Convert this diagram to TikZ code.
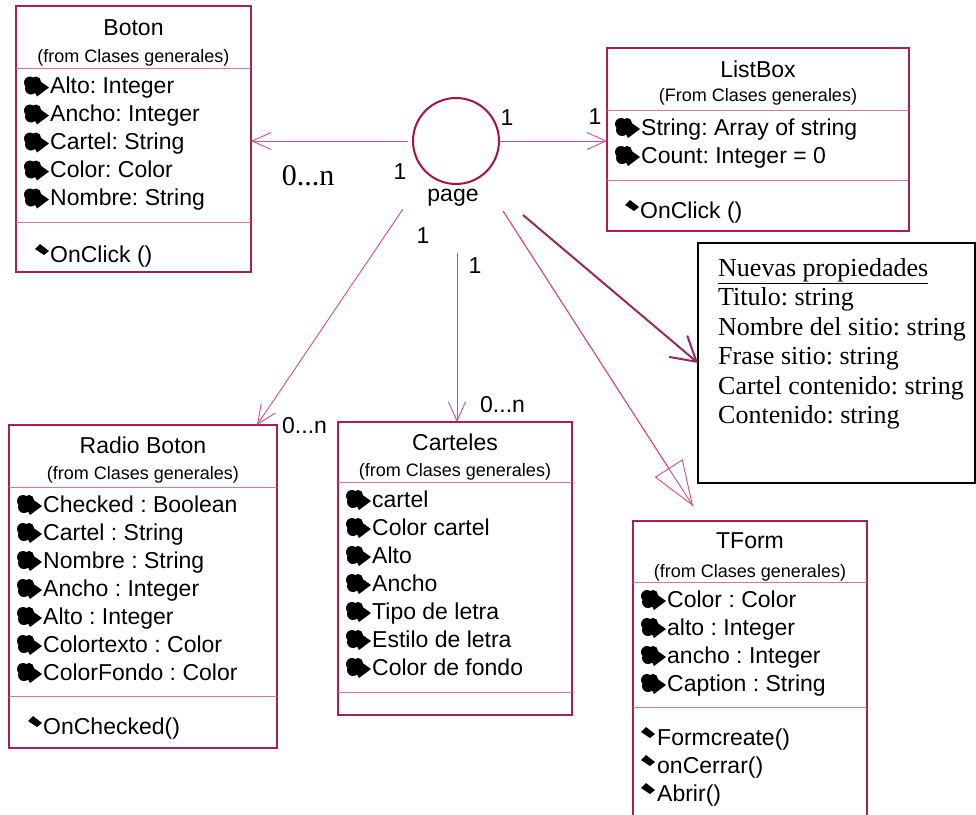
\documentclass[tikz,border=0pt]{standalone}
\usepackage{fontspec}
\setmainfont{Liberation Sans}
\newfontfamily\tnr{Liberation Serif}
\usetikzlibrary{arrows.meta,calc}
\frenchspacing
\definecolor{boxc}{RGB}{168,32,82}
\definecolor{sepc}{RGB}{212,120,155}
\definecolor{linec}{RGB}{205,80,125}
\definecolor{thickc}{RGB}{150,40,100}
\definecolor{circc}{RGB}{165,20,65}
\tikzset{
  classbox/.style={draw=boxc, line width=1.4pt, rectangle, inner sep=0pt, outer sep=0pt},
  sepline/.style={draw=sepc, line width=1pt},
  ttl/.style={inner sep=0pt, font=\frenchspacing\fontsize{23}{28}\selectfont, anchor=base},
  subttl/.style={inner sep=0pt, font=\frenchspacing\fontsize{18}{22}\selectfont, anchor=base},
  attr/.style={inner sep=0pt, font=\frenchspacing\fontsize{23}{28}\selectfont, anchor=base west},
  mult/.style={inner sep=0pt, font=\fontsize{23}{28}\selectfont, anchor=base},
  serifmult/.style={inner sep=0pt, font=\tnr\fontsize{30}{34}\selectfont, anchor=base},
  notetxt/.style={inner sep=0pt, font=\frenchspacing\tnr\fontsize{26}{29.5}\selectfont, anchor=base west},
  conn/.style={draw=linec, line width=0.9pt},
  openv/.style={-{Straight Barb[length=19pt,width=17pt]}},
  attricon/.pic={
    \fill[black] (-7,-3) circle[radius=6] (-1,-4) circle[radius=5] (-6,3) circle[radius=6];
    \fill[black] (-2,-8) -- (12,2) -- (0,11) -- (-6,0) -- cycle;
  },
  methicon/.pic={
    \fill[black] (-7,0) -- (-2,-5) -- (7,2) -- (2,6) -- cycle;
  }
}
% #1 box left x, #2 first baseline, #3 name prefix, #4 list
\newcommand\attrlist[4]{%
  \foreach \t [count=\i] in {#4} {
    \pic at ({#1+21},{#2+28*(\i-1)-8}) {attricon};
    \node[attr] (#3a\i) at ({#1+34},{#2+28*(\i-1)}) {\t};
  }}
% #1 icon x, #2 text x, #3 first baseline, #4 prefix, #5 list
\newcommand\methlist[5]{%
  \foreach \t [count=\i] in {#5} {
    \pic at ({#1},{#3+28*(\i-1)-13}) {methicon};
    \node[attr] (#4m\i) at ({#2},{#3+28*(\i-1)}) {\t};
  }}
\begin{document}
\begin{tikzpicture}[x=1pt,y=-1pt]
\useasboundingbox (0,0) rectangle (976,814);
\clip (0,0) rectangle (976,814);

% ---------- Boton ----------
\node[classbox, minimum width=235pt, minimum height=266pt] (boton) at (133.5,139) {};
\node[ttl] (botonT) at (133.5,35.5) {Boton};
\node[subttl] (botonS) at (133.5,62) {(from Clases generales)};
\draw[sepline] (16,68) -- (251,68);
\attrlist{16}{93.5}{bo}{Alto: Integer, Ancho: Integer, Cartel: String, Color: Color, Nombre: String}
\draw[sepline] (16,222) -- (251,222);
\methlist{42}{50}{262}{bo}{OnClick ()}

% ---------- ListBox ----------
\node[classbox, minimum width=302pt, minimum height=183pt] (listbox) at (758,139.5) {};
\node[ttl] (listboxT) at (758,77) {ListBox};
\node[subttl] (listboxS) at (758,101) {(From Clases generales)};
\draw[sepline] (607,110) -- (909,110);
\attrlist{607}{135}{lb}{String: Array of string, Count: Integer = 0}
\draw[sepline] (607,180) -- (909,180);
\methlist{632}{640}{218}{lb}{OnClick ()}

% ---------- Radio Boton ----------
\node[classbox, minimum width=268pt, minimum height=323pt] (radio) at (143,586.5) {};
\node[ttl] (radioT) at (143,453) {Radio Boton};
\node[subttl] (radioS) at (143,479) {(from Clases generales)};
\draw[sepline] (9,487) -- (277,487);
\attrlist{9}{512}{rb}{Checked : Boolean, Cartel : String, Nombre : String, Ancho : Integer, Alto : Integer, Colortexto : Color, ColorFondo : Color}
\draw[sepline] (9,696) -- (277,696);
\methlist{35}{43}{734}{rb}{OnChecked()}

% ---------- Carteles ----------
\node[classbox, minimum width=234pt, minimum height=293pt] (carteles) at (455,568.5) {};
\node[ttl] (cartelesT) at (455,450) {Carteles};
\node[subttl] (cartelesS) at (455,476) {(from Clases generales)};
\draw[sepline] (338,482) -- (572,482);
\attrlist{338}{507}{ca}{cartel, Color cartel, Alto, Ancho, Tipo de letra, Estilo de letra, Color de fondo}
\draw[sepline] (338,692) -- (572,692);

% ---------- TForm ----------
\node[classbox, minimum width=234pt, minimum height=309pt] (tform) at (750,675.5) {};
\node[ttl] (tformT) at (750,548) {TForm};
\node[subttl] (tformS) at (750,577) {(from Clases generales)};
\draw[sepline] (633,582) -- (867,582);
\attrlist{633}{607}{tf}{Color : Color, alto : Integer, ancho : Integer, Caption : String}
\draw[sepline] (633,707) -- (867,707);
\methlist{648}{657}{745}{tf}{Formcreate(), onCerrar(), Abrir()}

% ---------- Note ----------
\node[draw=black, line width=1.8pt, rectangle, inner sep=0pt, outer sep=0pt,
      minimum width=277pt, minimum height=240pt] (note) at (836.5,363) {};
\node[notetxt] (n1) at (718,276) {\underline{Nuevas propiedades}};
\node[notetxt] (n2) at (718,305.5) {Titulo: string};
\node[notetxt] (n3) at (718,335) {Nombre del sitio: string};
\node[notetxt] (n4) at (718,364.5) {Frase sitio: string};
\node[notetxt] (n5) at (718,394) {Cartel contenido: string};
\node[notetxt] (n6) at (718,423.5) {Contenido: string};

% ---------- page ----------
\node[circle, draw=circc, line width=2pt, minimum size=86pt, inner sep=0pt, outer sep=0pt] (page) at (456,141) {};
\node[mult] (pageL) at (453,201) {page};

% ---------- connector ends ----------
\coordinate (s1) at (403,209);
\coordinate (s2) at (457,253);
\coordinate (s3) at (503,211);
\coordinate (s4) at (523,215);
\coordinate (tR) at ($(radio.north east)+(-20,0)$);
\coordinate (tC) at ($(carteles.north)+(2,0)$);
\coordinate (tT) at ($(tform.north)+(-57,-15)$);

\draw[conn, openv] ($(page.west)+(-5,0)$) -- (boton.east |- page);
\draw[conn, openv] (page.east) -- (listbox.west |- page);
\draw[conn, openv] (s1) -- (tR);
\draw[conn, openv] (s2) -- (tC);
\draw[conn] (s3) -- (tT);
\draw[conn, -{Triangle[open, length=45pt, width=33pt]}] (s3) -- (tT);
\draw[draw=thickc, line width=2pt, -{Straight Barb[length=24pt,width=28pt]}] (s4) -- (note.west);

% ---------- multiplicities ----------
\node[mult] (m1) at (507,125) {1};
\node[mult] (m2) at (595,124) {1};
\node[serifmult] (m3) at (308,185) {0...n};
\node[mult] (m4) at (400,179) {1};
\node[mult] (m5) at (423,243) {1};
\node[mult] (m6) at (475,273) {1};
\node[mult, anchor=base west] (m7) at (282,433) {0...n};
\node[mult, anchor=base west] (m8) at (480,412) {0...n};
\end{tikzpicture}
\end{document}
